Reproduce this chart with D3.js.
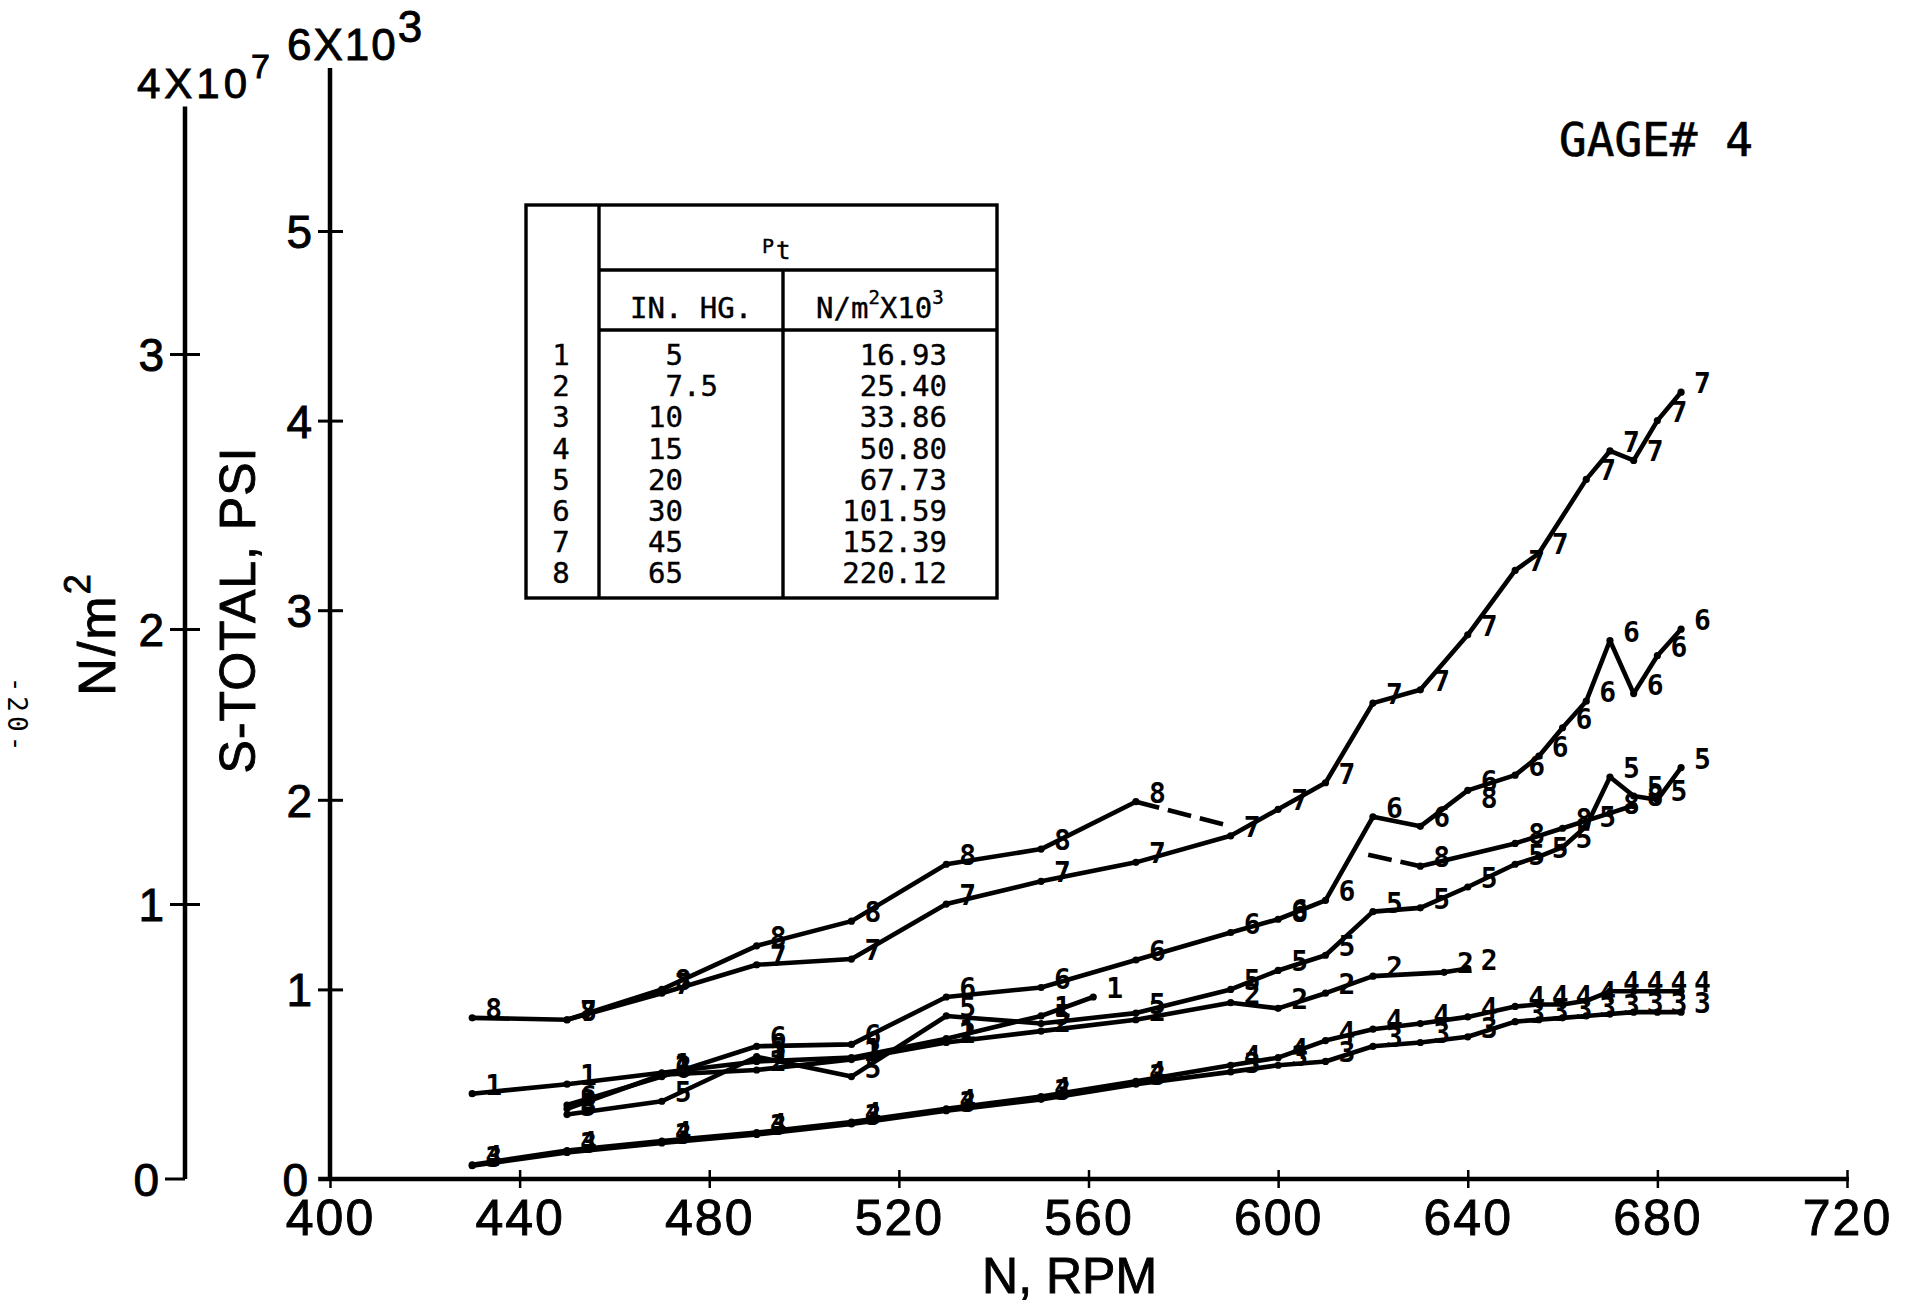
<!DOCTYPE html>
<html>
<head>
<meta charset="utf-8">
<script src="https://cdn.jsdelivr.net/npm/d3@7"></script>
<style>
  html, body { margin: 0; padding: 0; background: #fff; }
  svg { display: block; }
</style>
</head>
<body>
<script>
// Gage 4: total stress against shaft speed, one curve per inlet pressure

const rpmTicks = [400, 440, 480, 520, 560, 600, 640, 680, 720];
const psiTicks = [1, 2, 3, 4, 5];          // thousands of psi
const nm2Ticks = [1, 2, 3];                // x 10^7 N/m^2
const KPSI_PER_1E7_NM2 = 1.45038;          // 1e7 N/m^2 expressed in thousands of psi

// measured curves (RPM, thousands of psi)
const rpm1 = [430, 450, 470, 490, 510, 530, 550, 561];
const psi1 = [0.45, 0.50, 0.56, 0.62, 0.64, 0.74, 0.86, 0.96];

const rpm2 = [450, 470, 490, 510, 530, 550, 570, 590, 600, 610, 620, 635, 640];
const psi2 = [0.37, 0.55, 0.575, 0.63, 0.72, 0.78, 0.84, 0.93, 0.90, 0.98, 1.07, 1.09, 1.11];

const rpm3 = [430, 450, 470, 490, 510, 530, 550, 570, 590, 600, 610, 620, 630, 640, 650, 655, 660, 665, 670, 675, 680, 685];
const psi3 = [0.07, 0.14, 0.19, 0.235, 0.29, 0.36, 0.42, 0.50, 0.565, 0.60, 0.62, 0.70, 0.72, 0.75, 0.83, 0.84, 0.85, 0.86, 0.87, 0.88, 0.88, 0.88];

const rpm4 = [430, 450, 470, 490, 510, 530, 550, 570, 590, 600, 610, 620, 630, 640, 650, 655, 660, 665, 670, 675, 680, 685];
const psi4 = [0.075, 0.15, 0.20, 0.245, 0.30, 0.37, 0.435, 0.515, 0.60, 0.64, 0.73, 0.79, 0.82, 0.855, 0.91, 0.92, 0.92, 0.94, 0.99, 0.99, 0.99, 0.99];

const rpm5 = [450, 470, 490, 510, 530, 550, 570, 590, 600, 610, 620, 630, 640, 650, 655, 660, 665, 670, 675, 680, 685];
const psi5 = [0.34, 0.41, 0.645, 0.54, 0.86, 0.82, 0.875, 1.00, 1.10, 1.18, 1.41, 1.43, 1.54, 1.66, 1.70, 1.75, 1.86, 2.12, 2.02, 2.00, 2.17];

const rpm6 = [450, 470, 490, 510, 530, 550, 570, 590, 600, 610, 620, 630, 640, 650, 655, 660, 665, 670, 675, 680, 685];
const psi6 = [0.39, 0.54, 0.70, 0.71, 0.96, 1.01, 1.155, 1.30, 1.37, 1.47, 1.91, 1.86, 2.05, 2.13, 2.23, 2.38, 2.52, 2.84, 2.56, 2.76, 2.90];

const rpm7 = [450, 470, 490, 510, 530, 550, 570, 590, 600, 610, 620, 630, 640, 650, 655, 665, 670, 675, 680, 685];
const psi7 = [0.84, 0.98, 1.13, 1.16, 1.45, 1.57, 1.67, 1.81, 1.95, 2.09, 2.51, 2.58, 2.87, 3.21, 3.30, 3.69, 3.84, 3.79, 4.00, 4.15];

const rpm8 = [430, 450, 470, 490, 510, 530, 550, 570];
const psi8 = [0.85, 0.84, 1.00, 1.23, 1.36, 1.66, 1.74, 1.99];
const rpm8b = [630, 650, 660, 670, 675];
const psi8b = [1.65, 1.77, 1.85, 1.93, 1.97];
const rpm8Lone = [600, 640];
const psi8Lone = [1.36, 1.96];
const rpm8Dash = [570, 590];
const psi8Dash = [1.99, 1.86];
const rpm8Dash2 = [619, 630];
const psi8Dash2 = [1.71, 1.65];

// pressure key
const keyIndex = ["1", "2", "3", "4", "5", "6", "7", "8"];
const keyInHg = ["5", "7.5", "10", "15", "20", "30", "45", "65"];
const keyNm2 = ["16.93", "25.40", "33.86", "50.80", "67.73", "101.59", "152.39", "220.12"];

const W = 1906, H = 1307;
const LETTER = "'Liberation Sans', Arial, Helvetica, sans-serif";
const MONO = "'DejaVu Sans Mono', 'Liberation Mono', monospace";

const svg = d3.select("body").append("svg")
  .attr("width", W).attr("height", H)
  .attr("viewBox", `0 0 ${W} ${H}`);
svg.append("rect").attr("width", W).attr("height", H).attr("fill", "#fff");

const x = d3.scaleLinear().domain([400, 720]).range([330, 1847]);
const y = d3.scaleLinear().domain([0, 6]).range([1179, 1179 - 6 * 189.6]);
const yN = d3.scaleLinear().domain([0, 4]).range([y(0), y(4 * KPSI_PER_1E7_NM2)]);
const nmAxisX = 185;

// lettered labels get a light outline so they read as pen strokes
const lettered = sel => sel
  .style("font-family", LETTER)
  .attr("fill", "#000").attr("stroke", "#000").attr("stroke-width", 0.9);

// ---- x axis ----
svg.append("line")
  .attr("x1", x(397.5)).attr("x2", x(720) + 2)
  .attr("y1", y(0)).attr("y2", y(0))
  .attr("stroke", "#000").attr("stroke-width", 4.5);

const gx = svg.append("g")
  .attr("transform", `translate(0,${y(0)})`)
  .call(d3.axisBottom(x).tickValues(rpmTicks).tickFormat(d3.format("d")));
gx.select(".domain").remove();
gx.selectAll(".tick line")
  .attr("y1", -9).attr("y2", 9)
  .attr("stroke", "#000").attr("stroke-width", 2.5);
gx.selectAll(".tick text")
  .attr("y", 56).attr("dy", 0)
  .call(lettered)
  .style("font-size", "50px")
  .style("letter-spacing", "2px");

svg.append("text")
  .attr("x", x(556)).attr("y", 1293)
  .attr("text-anchor", "middle")
  .call(lettered)
  .style("font-size", "50px")
  .text("N, RPM");

// ---- psi axis ----
svg.append("line")
  .attr("x1", x(400)).attr("x2", x(400))
  .attr("y1", y(0)).attr("y2", y(5.86))
  .attr("stroke", "#000").attr("stroke-width", 4.5);

const gy = svg.append("g")
  .attr("transform", `translate(${x(400)},0)`)
  .call(d3.axisLeft(y).tickValues(psiTicks).tickFormat(d3.format("d")));
gy.select(".domain").remove();
gy.selectAll(".tick line")
  .attr("x1", -12).attr("x2", 13)
  .attr("stroke", "#000").attr("stroke-width", 3);
gy.selectAll(".tick text")
  .attr("x", -18).attr("dy", "0.36em")
  .call(lettered)
  .style("font-size", "46px");

svg.append("text")
  .attr("x", x(400) - 22).attr("y", y(0)).attr("dy", "0.36em")
  .attr("text-anchor", "end")
  .call(lettered)
  .style("font-size", "46px")
  .text("0");

const psiTop = svg.append("text")
  .attr("x", 287).attr("y", 60)
  .call(lettered)
  .style("font-size", "44px")
  .style("letter-spacing", "2px");
psiTop.append("tspan").text("6X10");
psiTop.append("tspan").attr("dy", -18).text("3");

svg.append("text")
  .attr("transform", `translate(255,610) rotate(-90)`)
  .attr("text-anchor", "middle")
  .call(lettered)
  .style("font-size", "50px")
  .style("letter-spacing", "1px")
  .text("S-TOTAL, PSI");

// ---- N/m^2 axis ----
svg.append("line")
  .attr("x1", nmAxisX).attr("x2", nmAxisX)
  .attr("y1", yN(0)).attr("y2", yN(3.9))
  .attr("stroke", "#000").attr("stroke-width", 4.5);

const gn = svg.append("g")
  .attr("transform", `translate(${nmAxisX},0)`)
  .call(d3.axisLeft(yN).tickValues(nm2Ticks).tickFormat(d3.format("d")));
gn.select(".domain").remove();
gn.selectAll(".tick line")
  .attr("x1", -15).attr("x2", 15)
  .attr("stroke", "#000").attr("stroke-width", 3);
gn.selectAll(".tick text")
  .attr("x", -21).attr("dy", "0.36em")
  .call(lettered)
  .style("font-size", "46px");

svg.append("line")
  .attr("x1", nmAxisX - 20).attr("x2", nmAxisX)
  .attr("y1", yN(0)).attr("y2", yN(0))
  .attr("stroke", "#000").attr("stroke-width", 3);
svg.append("text")
  .attr("x", nmAxisX - 26).attr("y", yN(0)).attr("dy", "0.36em")
  .attr("text-anchor", "end")
  .call(lettered)
  .style("font-size", "46px")
  .text("0");

const nmTop = svg.append("text")
  .attr("x", 137).attr("y", 98)
  .call(lettered)
  .style("font-size", "42px")
  .style("letter-spacing", "4px");
nmTop.append("tspan").text("4X10");
nmTop.append("tspan").attr("dy", -20).style("font-size", "34px").text("7");

const nmLabel = svg.append("text")
  .attr("transform", `translate(115,634) rotate(-90)`)
  .attr("text-anchor", "middle")
  .call(lettered)
  .style("font-size", "52px")
  .style("letter-spacing", "2px");
nmLabel.append("tspan").text("N/m");
nmLabel.append("tspan").attr("dy", -25).style("font-size", "36px").text("2");

// page number
svg.append("text")
  .attr("transform", `translate(8,716) rotate(90)`)
  .attr("text-anchor", "middle")
  .style("font-family", MONO).style("font-size", "26px")
  .style("letter-spacing", "4px")
  .text("-20-");

// gage title
svg.append("text")
  .attr("x", 1559).attr("y", 156)
  .style("font-family", MONO).style("font-size", "46px")
  .attr("stroke", "#000").attr("stroke-width", 0.6)
  .text("GAGE# 4");

// ---- curves ----
const line = d3.line()
  .x(d => x(d[0])).y(d => y(d[1]))
  .defined(d => d[1] != null);

const curves = [
  { id: "1", rpm: rpm1, psi: psi1 },
  { id: "2", rpm: rpm2, psi: psi2 },
  { id: "3", rpm: rpm3, psi: psi3 },
  { id: "4", rpm: rpm4, psi: psi4 },
  { id: "5", rpm: rpm5, psi: psi5 },
  { id: "6", rpm: rpm6, psi: psi6 },
  { id: "7", rpm: rpm7, psi: psi7 },
  { id: "8", rpm: rpm8, psi: psi8 },
  { id: "8", rpm: rpm8b, psi: psi8b }
];
const dashed = [
  { rpm: rpm8Dash, psi: psi8Dash },
  { rpm: rpm8Dash2, psi: psi8Dash2 }
];
const lone = [{ id: "8", rpm: rpm8Lone, psi: psi8Lone }];

const plot = svg.append("g");

curves.forEach(c => {
  const pts = c.rpm.map((r, i) => [r, c.psi[i]]);
  plot.append("path")
    .attr("d", line(pts))
    .attr("fill", "none").attr("stroke", "#000")
    .attr("stroke-width", 4.6).attr("stroke-linejoin", "round").attr("stroke-linecap", "round");
  plot.selectAll(null).data(pts).enter().append("circle")
    .attr("cx", d => x(d[0])).attr("cy", d => y(d[1])).attr("r", 3.6).attr("fill", "#000");
});

dashed.forEach(c => {
  const pts = c.rpm.map((r, i) => [r, c.psi[i]]);
  plot.append("path")
    .attr("d", line(pts))
    .attr("fill", "none").attr("stroke", "#000")
    .attr("stroke-width", 4.6).attr("stroke-dasharray", "24 9");
});

// point symbols: the curve number printed just right of each point
const symbolSets = curves.concat(lone);
symbolSets.forEach(c => {
  const pts = c.rpm.map((r, i) => [r, c.psi[i]]);
  plot.selectAll(null).data(pts).enter().append("text")
    .attr("x", d => x(d[0]) + 13).attr("y", d => y(d[1]) + 1)
    .style("font-family", MONO).style("font-weight", "bold").style("font-size", "28px")
    .text(c.id);
});

// ---- pressure key ----
const key = svg.append("g");
const K = { left: 526, right: 997, top: 205, bottom: 598, col1: 599, col2: 783, hSub: 270, hHead: 330 };
const kline = (x1, y1, x2, y2) => key.append("line")
  .attr("x1", x1).attr("y1", y1).attr("x2", x2).attr("y2", y2)
  .attr("stroke", "#000").attr("stroke-width", 3.4);
key.append("rect")
  .attr("x", K.left).attr("y", K.top)
  .attr("width", K.right - K.left).attr("height", K.bottom - K.top)
  .attr("fill", "#fff").attr("stroke", "#000").attr("stroke-width", 3.4);
kline(K.col1, K.top, K.col1, K.bottom);
kline(K.col1, K.hSub, K.right, K.hSub);
kline(K.col2, K.hSub, K.col2, K.bottom);
kline(K.col1, K.hHead, K.right, K.hHead);

const keyText = sel => sel
  .style("font-family", MONO).style("font-size", "29px")
  .attr("stroke", "#000").attr("stroke-width", 0.4);

const pt = key.append("text")
  .attr("x", 762).attr("y", 253)
  .call(keyText).style("font-size", "20px");
pt.append("tspan").text("P");
pt.append("tspan").attr("dx", 2).attr("dy", 6).style("font-size", "24px").text("t");

key.append("text")
  .attr("x", 630).attr("y", 318)
  .call(keyText)
  .text("IN. HG.");

const unitHead = key.append("text")
  .attr("x", 816).attr("y", 318)
  .call(keyText);
unitHead.append("tspan").text("N/m");
unitHead.append("tspan").attr("dy", -14).style("font-size", "19px").text("2");
unitHead.append("tspan").attr("dy", 14).text("X10");
unitHead.append("tspan").attr("dy", -14).style("font-size", "19px").text("3");

const rowY = i => 365 + i * 31.2;
keyIndex.forEach((k, i) => {
  key.append("text")
    .attr("x", 561).attr("y", rowY(i)).attr("text-anchor", "middle")
    .call(keyText).text(k);
  const parts = keyInHg[i].split(".");
  key.append("text")
    .attr("x", 683).attr("y", rowY(i)).attr("text-anchor", "end")
    .call(keyText).text(parts[0]);
  if (parts[1]) {
    key.append("text")
      .attr("x", 683).attr("y", rowY(i))
      .call(keyText).text("." + parts[1]);
  }
  key.append("text")
    .attr("x", 947).attr("y", rowY(i)).attr("text-anchor", "end")
    .call(keyText).text(keyNm2[i]);
});
</script>
</body>
</html>
